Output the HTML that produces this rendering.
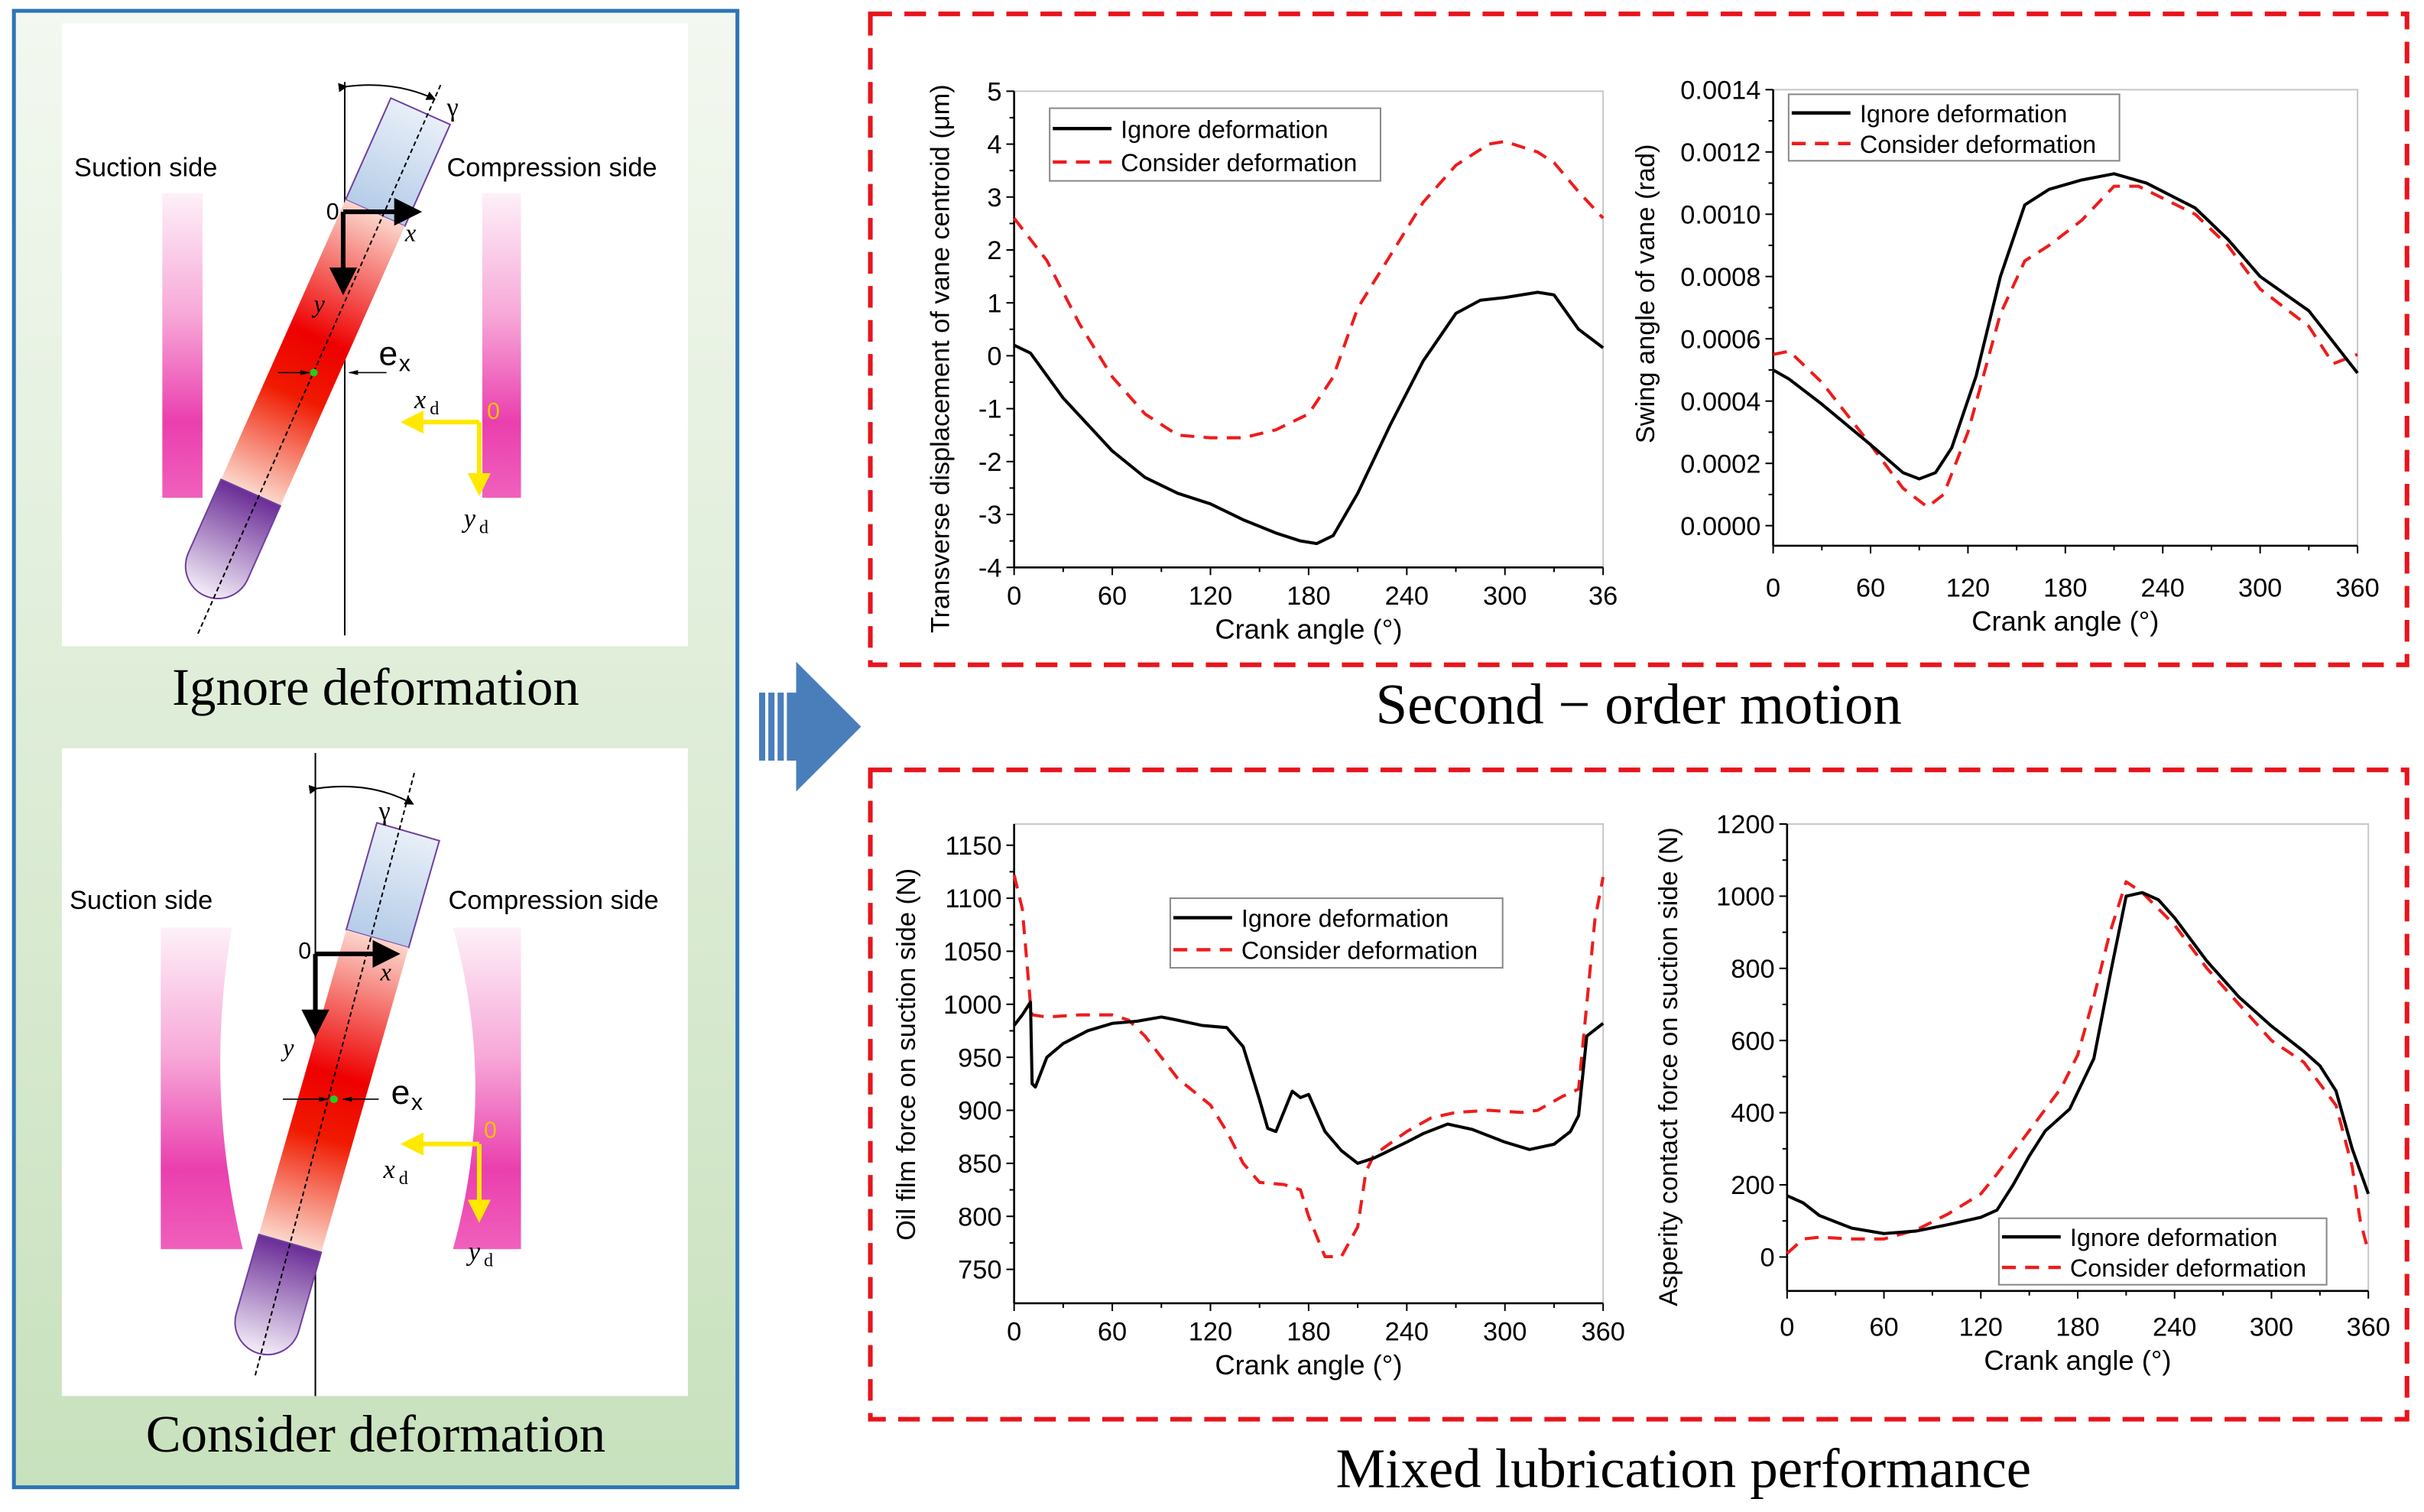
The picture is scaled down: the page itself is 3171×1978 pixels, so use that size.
<!DOCTYPE html>
<html><head><meta charset="utf-8"><style>
html,body{margin:0;padding:0;background:#fff;}
svg{display:block;}
text{font-family:"Liberation Sans",sans-serif;}
.serif{font-family:"Liberation Serif",serif;}
</style></head><body>
<svg id="root" width="3171" height="1978" viewBox="0 0 1568 978" preserveAspectRatio="none" xmlns="http://www.w3.org/2000/svg">
<defs>
<linearGradient id="gbg" x1="0" y1="0" x2="0" y2="1"><stop offset="0" stop-color="#f3f8f0"/><stop offset="1" stop-color="#c8e1bd"/></linearGradient>
<linearGradient id="gwall" x1="0" y1="0" x2="0" y2="1"><stop offset="0" stop-color="#fdf0f8"/><stop offset="0.4" stop-color="#f7a8d8"/><stop offset="0.75" stop-color="#ea3fae"/><stop offset="1" stop-color="#f060bc"/></linearGradient>
<linearGradient id="gred" x1="0" y1="0" x2="0" y2="1"><stop offset="0" stop-color="#fbd6cc"/><stop offset="0.45" stop-color="#ee0000"/><stop offset="0.65" stop-color="#f01a00"/><stop offset="1" stop-color="#fbd8cc"/></linearGradient>
<linearGradient id="gblue" x1="0" y1="0" x2="0" y2="1"><stop offset="0" stop-color="#e8eff8"/><stop offset="1" stop-color="#b5cce8"/></linearGradient>
<linearGradient id="gpur" x1="0" y1="0" x2="0" y2="1"><stop offset="0" stop-color="#6a2c96"/><stop offset="1" stop-color="#f4eef8"/></linearGradient>
<marker id="ab" markerWidth="6" markerHeight="6" refX="5" refY="3" orient="auto"><path d="M0,0 L6,3 L0,6 z" fill="#000"/></marker>
<marker id="ay" markerWidth="5" markerHeight="5" refX="4" refY="2.5" orient="auto"><path d="M0,0 L5,2.5 L0,5 z" fill="#ffe800"/></marker>
<marker id="as" markerWidth="8" markerHeight="6" refX="7" refY="3" orient="auto"><path d="M0,1 L8,3 L0,5 z" fill="#000"/></marker>
</defs>

<rect x="9" y="7" width="468" height="955" fill="url(#gbg)" stroke="#2e75b6" stroke-width="2.5"/>
<rect x="40" y="15" width="405" height="403" fill="#fff"/>
<rect x="40" y="484" width="405" height="419" fill="#fff"/>
<text x="243" y="456" class="serif" font-size="34" text-anchor="middle">Ignore deformation</text>
<text x="243" y="939" class="serif" font-size="34" text-anchor="middle">Consider deformation</text>

<g>
<rect x="105" y="125" width="26" height="197" fill="url(#gwall)"/>
<rect x="312" y="125" width="25" height="197" fill="url(#gwall)"/>
<text x="48" y="114" font-size="17">Suction side</text>
<text x="289" y="114" font-size="17">Compression side</text>
<line x1="223" y1="53" x2="223" y2="411" stroke="#000" stroke-width="1"/>
<g transform="translate(272,72) rotate(24)">
<rect x="-21" y="0" width="42" height="72" fill="url(#gblue)" stroke="#7040a0" stroke-width="1"/>
<rect x="-21" y="72" width="42" height="198" fill="url(#gred)"/>
<path d="M-21,270 L21,270 L21,322 A21,21 0 0 1 -21,322 Z" fill="url(#gpur)" stroke="#7040a0" stroke-width="1"/>
</g>
<line x1="285" y1="55" x2="128" y2="410" stroke="#000" stroke-width="1" stroke-dasharray="3,2"/>
<path d="M224,56 Q255,52 281,64" fill="none" stroke="#000" stroke-width="1" marker-end="url(#ab)" marker-start="url(#ab)"/>
<text x="289" y="75" font-size="17" class="serif">γ</text>
<line x1="222" y1="137" x2="270" y2="137" stroke="#000" stroke-width="3" marker-end="url(#ab)"/>
<line x1="222" y1="137" x2="222" y2="188" stroke="#000" stroke-width="3" marker-end="url(#ab)"/>
<text x="211" y="142" font-size="15">0</text>
<text x="262" y="156" font-size="16" class="serif" font-style="italic">x</text>
<text x="203" y="202" font-size="16" class="serif" font-style="italic">y</text>
<circle cx="203" cy="241" r="2.5" fill="#22cc22"/>
<line x1="180" y1="241" x2="200" y2="241" stroke="#000" stroke-width="0.8" marker-end="url(#as)"/>
<line x1="250" y1="241" x2="226" y2="241" stroke="#000" stroke-width="0.8" marker-end="url(#as)"/>
<text x="245" y="236" font-size="22">e</text><text x="258" y="240" font-size="15">x</text>
<line x1="310" y1="273" x2="262" y2="273" stroke="#ffe800" stroke-width="3" marker-end="url(#ay)"/>
<line x1="310" y1="273" x2="310" y2="318" stroke="#ffe800" stroke-width="3" marker-end="url(#ay)"/>
<text x="315" y="271" font-size="15" fill="#f0c000">0</text>
<text x="268" y="264" font-size="17" class="serif" font-style="italic">x</text><text x="278" y="268" font-size="12" class="serif">d</text>
<text x="300" y="341" font-size="17" class="serif" font-style="italic">y</text><text x="310" y="345" font-size="12" class="serif">d</text>
</g>

<g>
<path d="M104,600 L150,600 Q132,704 157,808 L104,808 Z" fill="url(#gwall)"/>
<path d="M337,600 L293,600 Q322,704 293,808 L337,808 Z" fill="url(#gwall)"/>
<text x="45" y="588" font-size="17">Suction side</text>
<text x="290" y="588" font-size="17">Compression side</text>
<line x1="204" y1="487" x2="204" y2="903" stroke="#000" stroke-width="1"/>
<g transform="translate(264,538) rotate(16)">
<rect x="-21" y="0" width="42" height="72" fill="url(#gblue)" stroke="#7040a0" stroke-width="1"/>
<rect x="-21" y="72" width="42" height="205" fill="url(#gred)"/>
<path d="M-21,277 L21,277 L21,330 A21,21 0 0 1 -21,330 Z" fill="url(#gpur)" stroke="#7040a0" stroke-width="1"/>
</g>
<line x1="268" y1="500" x2="165" y2="890" stroke="#000" stroke-width="1" stroke-dasharray="3,2"/>
<path d="M205,510 Q240,505 267,520" fill="none" stroke="#000" stroke-width="1" marker-end="url(#ab)" marker-start="url(#ab)"/>
<text x="245" y="530" font-size="17" class="serif">γ</text>
<line x1="204" y1="617" x2="256" y2="617" stroke="#000" stroke-width="3" marker-end="url(#ab)"/>
<line x1="204" y1="617" x2="204" y2="668" stroke="#000" stroke-width="3" marker-end="url(#ab)"/>
<text x="193" y="620" font-size="15">0</text>
<text x="246" y="634" font-size="16" class="serif" font-style="italic">x</text>
<text x="183" y="683" font-size="16" class="serif" font-style="italic">y</text>
<circle cx="216" cy="711" r="2.5" fill="#22cc22"/>
<line x1="183" y1="711" x2="212" y2="711" stroke="#000" stroke-width="0.8" marker-end="url(#as)"/>
<line x1="245" y1="711" x2="222" y2="711" stroke="#000" stroke-width="0.8" marker-end="url(#as)"/>
<text x="253" y="714" font-size="22">e</text><text x="266" y="718" font-size="15">x</text>
<line x1="310" y1="740" x2="262" y2="740" stroke="#ffe800" stroke-width="3" marker-end="url(#ay)"/>
<line x1="310" y1="740" x2="310" y2="788" stroke="#ffe800" stroke-width="3" marker-end="url(#ay)"/>
<text x="313" y="736" font-size="15" fill="#f0c000">0</text>
<text x="248" y="762" font-size="17" class="serif" font-style="italic">x</text><text x="258" y="766" font-size="12" class="serif">d</text>
<text x="303" y="815" font-size="17" class="serif" font-style="italic">y</text><text x="313" y="819" font-size="12" class="serif">d</text>
</g>

<g fill="#4a7ebb">
<rect x="491" y="448" width="4" height="44"/><rect x="497" y="448" width="4" height="44"/><rect x="503" y="448" width="4" height="44"/><rect x="509" y="448" width="6" height="44"/>
<path d="M515,428 L557,470 L515,512 Z"/>
</g>

<rect x="563" y="9" width="994" height="421" fill="none" stroke="#e8141c" stroke-width="3" stroke-dasharray="14,8"/>
<rect x="563" y="498" width="994" height="420" fill="none" stroke="#e8141c" stroke-width="3" stroke-dasharray="14,8"/>
<text x="1060" y="468" class="serif" font-size="37" text-anchor="middle">Second − order motion</text>
<text x="1089" y="962" class="serif" font-size="36" text-anchor="middle">Mixed lubrication performance</text>
<g id="charts"></g>
</svg>
<script>
var c1X = [0,10,30,60,80,100,120,140,160,175,185,195,210,230,250,270,285,300,320,330,345,360];
var c1Ignore = [0.2,0.05,-0.8,-1.8,-2.3,-2.6,-2.8,-3.1,-3.35,-3.5,-3.55,-3.4,-2.6,-1.3,-0.1,0.8,1.05,1.1,1.2,1.15,0.5,0.15];
var c1XR = [0,20,40,60,80,100,120,140,160,180,195,210,230,250,270,290,300,320,330,345,360];
var c1Consider = [2.6,1.8,0.6,-0.4,-1.1,-1.5,-1.55,-1.55,-1.4,-1.1,-0.4,0.9,1.9,2.9,3.6,4.0,4.05,3.85,3.65,3.1,2.6];
var c1YTicks = [5,4,3,2,1,0,-1,-2,-3,-4];
var c1XTickLabels = ["0","60","120","180","240","300","36"];
var c2X = [0,10,30,60,80,90,100,110,125,140,155,170,190,210,230,260,280,300,330,360];
var c2Ignore = [0.00050,0.00047,0.00039,0.00026,0.00017,0.00015,0.00017,0.00025,0.00048,0.00080,0.00103,0.00108,0.00111,0.00113,0.00110,0.00102,0.00092,0.00080,0.00069,0.00049];
var c2XR = [0,10,30,60,80,95,105,120,140,155,170,190,210,225,260,280,300,330,345,360];
var c2Consider = [0.00055,0.00056,0.00046,0.00026,0.00012,0.00006,0.00010,0.00030,0.00068,0.00085,0.00090,0.00098,0.00109,0.00109,0.00100,0.00090,0.00076,0.00064,0.00052,0.00055];
var c2YTicks = ["0.0014","0.0012","0.0010","0.0008","0.0006","0.0004","0.0002","0.0000"];
var c2XTickLabels = ["0","60","120","180","240","300","360"];
var c3X = [0,5,10,11,13,20,30,45,60,75,90,100,115,130,140,150,155,160,170,175,180,190,200,210,220,240,250,265,280,300,315,330,340,345,350,360];
var c3Ignore = [980,990,1002,925,922,950,963,975,982,984,988,985,980,978,960,910,883,880,918,912,915,880,862,850,855,870,878,887,882,870,863,868,880,895,970,982];
var c3XR = [0,5,10,11,20,40,60,70,80,100,120,130,140,150,165,175,180,190,200,210,215,220,240,255,270,290,310,320,335,345,350,355,360];
var c3Consider = [1122,1090,1000,990,988,990,990,985,970,930,905,880,850,832,830,825,800,762,762,790,842,858,880,893,898,900,898,900,913,920,1000,1080,1120];
var c3YTicks = [1150,1100,1050,1000,950,900,850,800,750];
var c4X = [0,10,20,40,60,80,100,120,130,140,150,160,175,190,200,210,220,230,240,260,280,300,320,330,340,350,360];
var c4Ignore = [170,150,115,80,65,72,90,110,130,200,280,350,410,550,780,1000,1010,990,940,820,720,640,570,530,460,300,175];
var c4XR = [0,10,20,40,60,80,100,120,130,150,170,180,190,200,210,220,240,260,280,300,320,340,350,355,360];
var c4Consider = [10,50,55,50,50,75,120,175,230,350,470,560,720,900,1040,1010,920,800,700,600,540,420,250,100,15];
var c4YTicks = [1200,1000,800,600,400,200,0];

var NS = "http://www.w3.org/2000/svg";
var host = document.getElementById("charts");
function mk(tag, parent){ var e=document.createElementNS(NS,tag); parent.appendChild(e); return e; }

function drawChart(cfg){
  var g = mk("g", host);
  
  
  var lo = cfg.xlo || 0;
  function sx(v){ return cfg.x0 + (v-0)/360*(cfg.x1-cfg.x0); }
  function sy(v){ return cfg.yb - (v-cfg.ymin)/(cfg.ymax-cfg.ymin)*(cfg.yb-cfg.yt); }
  var fr = mk("rect", g);
  
  
  fr.setAttribute("x", cfg.x0); fr.setAttribute("y", cfg.yt);
  fr.setAttribute("width", cfg.x1-cfg.x0); fr.setAttribute("height", cfg.yb-cfg.yt);
  fr.setAttribute("fill","none"); fr.setAttribute("stroke","#c8c8c8"); fr.setAttribute("stroke-width","1");
  var ya = mk("line", g);
  
  
  ya.setAttribute("x1",cfg.x0); ya.setAttribute("x2",cfg.x0); ya.setAttribute("y1",cfg.yt); ya.setAttribute("y2",cfg.yb);
  ya.setAttribute("stroke","#000"); ya.setAttribute("stroke-width","1.3");
  var xa = mk("line", g);
  
  
  xa.setAttribute("x1",cfg.x0); xa.setAttribute("x2",cfg.x1); xa.setAttribute("y1",cfg.yb); xa.setAttribute("y2",cfg.yb);
  xa.setAttribute("stroke","#000"); xa.setAttribute("stroke-width","1.3");
  for (var i=0;i<cfg.yticks.length;i++){
    var v = parseFloat(cfg.yticks[i]); var y = sy(v);
    var t = mk("line", g);
    
    
    t.setAttribute("x1",cfg.x0-5); t.setAttribute("x2",cfg.x0); t.setAttribute("y1",y); t.setAttribute("y2",y); t.setAttribute("stroke","#000");
    if (i<cfg.yticks.length-1){
      var ym = sy((v+parseFloat(cfg.yticks[i+1]))/2);
      var tm = mk("line", g);
      
      
      tm.setAttribute("x1",cfg.x0-3); tm.setAttribute("x2",cfg.x0); tm.setAttribute("y1",ym); tm.setAttribute("y2",ym); tm.setAttribute("stroke","#000");
    }
    var tl = mk("text", g);
    
    
    tl.setAttribute("x",cfg.x0-8); tl.setAttribute("y",y+6); tl.setAttribute("text-anchor","end"); tl.setAttribute("font-size","17");
    tl.textContent = cfg.yticks[i];
  }
  for (var j=0;j<cfg.xlabels.length;j++){
    var xv = j*60; var x = sx(xv);
    var xt = mk("line", g);
    
    
    xt.setAttribute("x1",x); xt.setAttribute("x2",x); xt.setAttribute("y1",cfg.yb); xt.setAttribute("y2",cfg.yb+5); xt.setAttribute("stroke","#000");
    if (j<cfg.xlabels.length-1){
      var xm = sx(xv+30);
      var xmt = mk("line", g);
      
      
      xmt.setAttribute("x1",xm); xmt.setAttribute("x2",xm); xmt.setAttribute("y1",cfg.yb); xmt.setAttribute("y2",cfg.yb+3); xmt.setAttribute("stroke","#000");
    }
    var xl = mk("text", g);
    
    
    xl.setAttribute("x",x); xl.setAttribute("y",cfg.yb+24+lo); xl.setAttribute("text-anchor","middle"); xl.setAttribute("font-size","17");
    xl.textContent = cfg.xlabels[j];
  }
  var xtit = mk("text", g);
  
  
  xtit.setAttribute("x",(cfg.x0+cfg.x1)/2); xtit.setAttribute("y",cfg.yb+46+lo); xtit.setAttribute("text-anchor","middle"); xtit.setAttribute("font-size","18");
  xtit.textContent = "Crank angle (°)";
  var ytit = mk("text", g);
  
  
  ytit.setAttribute("transform","translate("+cfg.ytx+","+cfg.yty+") rotate(-90)"); ytit.setAttribute("text-anchor","middle"); ytit.setAttribute("font-size","17");
  ytit.textContent = cfg.ytitle;
  function line(xs, ys, dashed, nm){
    var d=""; for (var k=0;k<xs.length;k++){ d += (k?"L":"M")+sx(xs[k]).toFixed(2)+","+sy(ys[k]).toFixed(2); }
    var p = mk("path", g);
    
    
    p.setAttribute("d",d); p.setAttribute("fill","none"); p.setAttribute("stroke-linejoin","round");
    p.setAttribute("stroke", dashed?"#ee1c1c":"#000"); p.setAttribute("stroke-width","2");
    if (dashed) p.setAttribute("stroke-dasharray","9,6");
  }
  line(cfg.rx, cfg.red, true, "consider-deformation-line");
  line(cfg.bx, cfg.black, false, "ignore-deformation-line");
  var L = cfg.leg;
  var lg = mk("g", g);
  
  
  var lb = mk("rect", lg);
  
  
  lb.setAttribute("x",L[0]); lb.setAttribute("y",L[1]); lb.setAttribute("width",L[2]); lb.setAttribute("height",L[3]);
  lb.setAttribute("fill","#fff"); lb.setAttribute("stroke","#888"); lb.setAttribute("stroke-width","1");
  var names = ["Ignore deformation","Consider deformation"];
  for (var q=0;q<2;q++){
    var yy = L[1] + L[3]*(q===0?0.28:0.74);
    var sl = mk("line", lg);
    
    
    sl.setAttribute("x1",L[0]+2); sl.setAttribute("x2",L[0]+40); sl.setAttribute("y1",yy); sl.setAttribute("y2",yy);
    sl.setAttribute("stroke", q?"#ee1c1c":"#000"); sl.setAttribute("stroke-width","2.2");
    if (q) sl.setAttribute("stroke-dasharray","9,6");
    var st = mk("text", lg);
    
    
    st.setAttribute("x",L[0]+46); st.setAttribute("y",yy+6); st.setAttribute("font-size","16");
    st.textContent = names[q];
  }
}

drawChart({name:"transverse-displacement-chart", x0:656,x1:1037,yt:59,yb:367,ymin:-4,ymax:5,
  yticks:c1YTicks, xlabels:c1XTickLabels, bx:c1X, black:c1Ignore, rx:c1XR, red:c1Consider,
  ytitle:"Transverse displacement of vane centroid (μm)", ytx:614, yty:232, leg:[679,70,214,47]});
drawChart({name:"swing-angle-chart", x0:1147,x1:1525,yt:58,yb:353,ymin:-0.0000645,ymax:0.0014, xlo:9,
  yticks:c2YTicks, xlabels:c2XTickLabels, bx:c2X, black:c2Ignore, rx:c2XR, red:c2Consider,
  ytitle:"Swing angle of vane (rad)", ytx:1070, yty:190, leg:[1157,61,214,43]});
drawChart({name:"oil-film-force-chart", x0:656,x1:1037,yt:533,yb:843,ymin:718,ymax:1170,
  yticks:c3YTicks, xlabels:c2XTickLabels, bx:c3X, black:c3Ignore, rx:c3XR, red:c3Consider,
  ytitle:"Oil film force on suction side (N)", ytx:592, yty:682, leg:[757,581,215,45]});
drawChart({name:"asperity-contact-force-chart", x0:1156,x1:1532,yt:533,yb:835,ymin:-94,ymax:1200, xlo:5,
  yticks:c4YTicks, xlabels:c2XTickLabels, bx:c4X, black:c4Ignore, rx:c4XR, red:c4Consider,
  ytitle:"Asperity contact force on suction side (N)", ytx:1085, yty:690, leg:[1293,788,212,43]});
</script>
</body></html>
